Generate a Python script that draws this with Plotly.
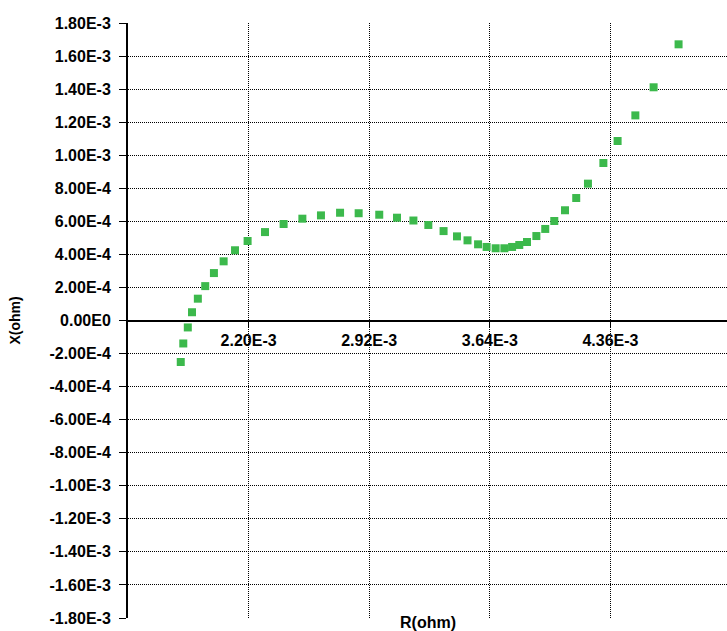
import plotly.graph_objects as go

# Data, R and X in ohm
r_ohm = [1.795e-3, 1.810e-3, 1.837e-3, 1.862e-3, 1.897e-3, 1.941e-3, 1.993e-3, 2.051e-3,
         2.119e-3, 2.194e-3, 2.298e-3, 2.409e-3, 2.521e-3, 2.632e-3, 2.746e-3, 2.857e-3,
         2.980e-3, 3.086e-3, 3.184e-3, 3.273e-3, 3.364e-3, 3.444e-3, 3.507e-3, 3.570e-3,
         3.621e-3, 3.675e-3, 3.727e-3, 3.773e-3, 3.816e-3, 3.862e-3, 3.918e-3, 3.971e-3,
         4.025e-3, 4.089e-3, 4.156e-3, 4.226e-3, 4.318e-3, 4.403e-3, 4.509e-3, 4.618e-3,
         4.767e-3]
x_ohm = [-2.51e-4, -1.39e-4, -0.42e-4, 0.50e-4, 1.32e-4, 2.08e-4, 2.87e-4, 3.58e-4,
         4.25e-4, 4.81e-4, 5.35e-4, 5.84e-4, 6.16e-4, 6.36e-4, 6.52e-4, 6.49e-4,
         6.40e-4, 6.22e-4, 6.05e-4, 5.78e-4, 5.41e-4, 5.09e-4, 4.85e-4, 4.61e-4,
         4.45e-4, 4.37e-4, 4.37e-4, 4.45e-4, 4.57e-4, 4.75e-4, 5.11e-4, 5.54e-4,
         6.02e-4, 6.67e-4, 7.41e-4, 8.28e-4, 9.53e-4, 1.086e-3, 1.241e-3, 1.411e-3,
         1.671e-3]

x_tick_vals = [2.20e-3, 2.92e-3, 3.64e-3, 4.36e-3]
x_tick_text = ["2.20E-3", "2.92E-3", "3.64E-3", "4.36E-3"]

y_tick_vals = [-1.8e-3, -1.6e-3, -1.4e-3, -1.2e-3, -1.0e-3, -8e-4, -6e-4, -4e-4, -2e-4, 0.0,
               2e-4, 4e-4, 6e-4, 8e-4, 1.0e-3, 1.2e-3, 1.4e-3, 1.6e-3, 1.8e-3]
y_tick_text = ["-1.80E-3", "-1.60E-3", "-1.40E-3", "-1.20E-3", "-1.00E-3", "-8.00E-4",
               "-6.00E-4", "-4.00E-4", "-2.00E-4", "0.00E0", "2.00E-4", "4.00E-4",
               "6.00E-4", "8.00E-4", "1.00E-3", "1.20E-3", "1.40E-3", "1.60E-3", "1.80E-3"]

x_title = "R(ohm)"
y_title = "X(ohm)"

FONT = "Liberation Sans"

fig = go.Figure()
fig.add_trace(go.Scatter(
    x=r_ohm, y=x_ohm, mode="markers",
    marker=dict(symbol="square", size=8, color="#3cb94c", line=dict(width=0)),
    showlegend=False,
))

fig.update_layout(
    width=727, height=631,
    margin=dict(l=128, r=0, t=23, b=13),
    paper_bgcolor="white", plot_bgcolor="white",
    xaxis=dict(
        range=[1.48e-3, 1.48e-3 + 599 / 167.5e3],
        tickmode="array", tickvals=x_tick_vals, ticktext=x_tick_text,
        showgrid=True, gridcolor="black", gridwidth=1, griddash="1px,1px",
        zeroline=False,
        showline=True, linecolor="black", linewidth=2,
        anchor="free", position=0.5,
        ticks="outside", ticklen=5, tickcolor="black", tickwidth=1,
        tickfont=dict(family=FONT, size=16, color="black", weight="bold"),
    ),
    yaxis=dict(
        range=[-1.8e-3, 1.8e-3],
        tickmode="array", tickvals=y_tick_vals, ticktext=y_tick_text,
        showgrid=True, gridcolor="black", gridwidth=1, griddash="1px,1px",
        zeroline=False,
        showline=True, linecolor="black", linewidth=2,
        ticks="outside", ticklen=7, tickcolor="black", tickwidth=1,
        ticklabelstandoff=5,
        tickfont=dict(family=FONT, size=16, color="black", weight="bold"),
    ),
    annotations=[
        dict(text=x_title, xref="paper", yref="paper", x=0.5, y=0, yshift=-4,
             xanchor="center", yanchor="middle", showarrow=False,
             font=dict(family=FONT, size=16, color="black", weight="bold")),
        dict(text=y_title, xref="paper", yref="paper", x=(14 - 128) / 599, y=0.5,
             xanchor="center", yanchor="middle", textangle=-90, showarrow=False,
             font=dict(family=FONT, size=14, color="black", weight="bold")),
    ],
)

fig.write_html("out.html")
